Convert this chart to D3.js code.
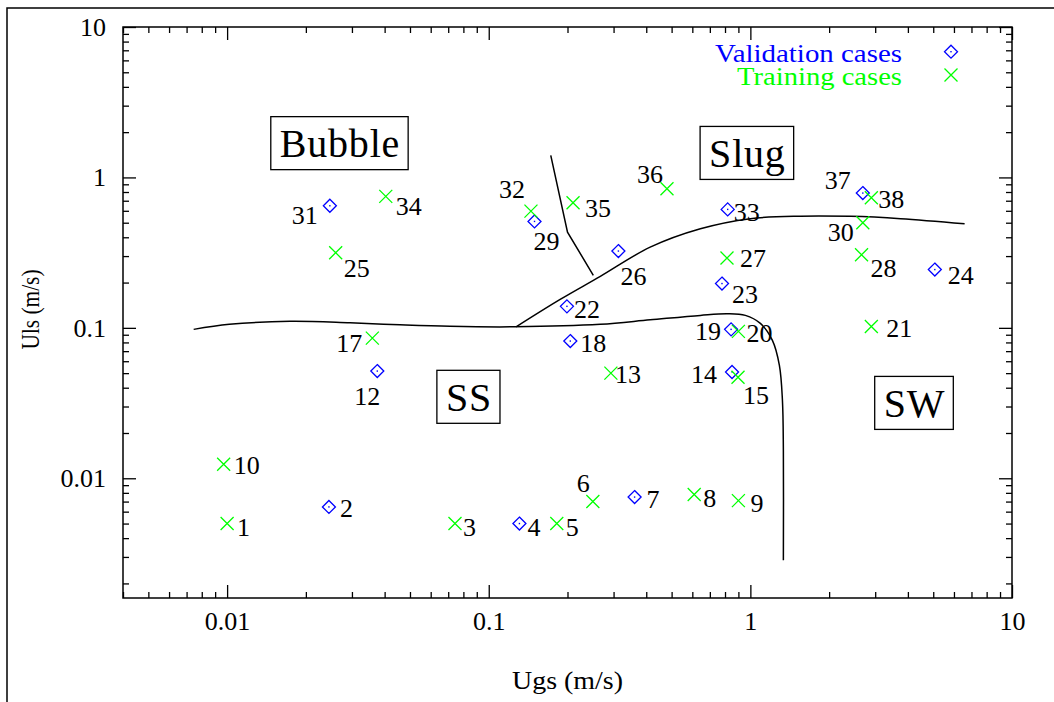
<!DOCTYPE html>
<html><head><meta charset="utf-8">
<script src="https://cdn.jsdelivr.net/npm/d3@7"></script>
<style>
body{margin:0;background:#fff}
svg{display:block}
</style>
</head><body>
<svg id="c" width="1054" height="702"></svg>
<script>
// ---------- data ----------
const trainingIds = [1,3,5,6,8,9,10,13,15,17,20,21,25,27,28,30,32,34,35,36,38];
const trainingUgs = [0.01,0.0743,0.182,0.25,0.61,0.90,0.0097,0.293,0.897,0.0359,0.90,2.90,0.026,0.814,2.66,2.69,0.145,0.0404,0.21,0.48,2.90];
const trainingUls = [0.005,0.005,0.005,0.0070,0.0078,0.0071,0.0124,0.050,0.047,0.0855,0.0948,0.102,0.316,0.291,0.306,0.50,0.597,0.748,0.679,0.841,0.733];

const validationIds = [2,4,7,12,14,18,19,22,23,24,26,29,31,33,37];
const validationUgs = [0.0245,0.131,0.361,0.0375,0.851,0.205,0.844,0.199,0.779,5.07,0.313,0.1496,0.0247,0.819,2.69];
const validationUls = [0.00645,0.005,0.0075,0.0516,0.0509,0.0817,0.0977,0.139,0.197,0.244,0.324,0.51,0.648,0.613,0.787];

const xTickValues = [0.01,0.1,1,10];
const xTickLabels = ["0.01","0.1","1","10"];
const yTickValues = [0.01,0.1,1,10];
const yTickLabels = ["0.01","0.1","1","10"];

const regionNames = ["Bubble","Slug","SS","SW"];
const regionUgs = [0.027,0.974,0.084,4.24];
const regionUls = [1.69,1.455,0.0348,0.0317];

// flow-regime boundary curves (Ugs, Uls)
const boundaryA_Ugs = [0.00745,0.0102,0.0174,0.0295,0.0458,0.0711,0.126,0.267,0.414,0.644,0.817,0.957,1.092,1.214,1.291,1.326,1.337,1.337];
const boundaryA_Uls = [0.0977,0.1055,0.1105,0.108,0.1047,0.1023,0.1016,0.1055,0.113,0.121,0.124,0.121,0.107,0.0826,0.0563,0.033,0.0153,0.00285];
const boundaryB_Ugs = [0.1272,0.1875,0.267,0.414,0.644,1.0,1.553,2.414,3.75,6.59];
const boundaryB_Uls = [0.1016,0.1546,0.22,0.344,0.456,0.532,0.553,0.551,0.532,0.492];
const boundaryC_Ugs = [0.1726,0.2,0.251];
const boundaryC_Uls = [1.40,0.433,0.2233];

const legendLabels = ["Validation cases","Training cases"];
const xTitle = "Ugs (m/s)";
const yTitle = "Uls (m/s)";

// label placement (pixel offsets from marker: left edge, vertical centre)
const trainingLabelOffsets = [[10,3],[8,3],[9,3],[-16,-19],[9,3],[12,2],[10,1],[4,1],[5,18],[-36,5],[8,2],[15,1],[8,15],[13,0],[9,13],[-35,9],[-32,-22],[10,10],[12,5],[-30,-15],[7,1]];
const validationLabelOffsets = [[11,1],[8,3],[12,2],[-23,25],[-41,2],[10,2],[-36,2],[7,3],[10,10],[13,5],[2,25],[-1,19],[-38,9],[6,3],[-38,-13]];

// ---------- drawing ----------
const FONT = "Liberation Serif";
const svg = d3.select("#c");
const L = 123, R = 1012, T = 27, B = 598;
const BLUE = "#0000ff", GREEN = "#00ff00";
const x = d3.scaleLog().domain([0.004,10]).range([L,R]);
const y = d3.scaleLog().domain([0.0016,10]).range([B,T]);

// outer frame (partially outside view)
svg.append("rect").attr("x",7).attr("y",8).attr("width",1200).attr("height",1000)
  .attr("fill","none").attr("stroke","#000").attr("stroke-width",1.5);

const xMinor = x.ticks().filter(v => !xTickValues.some(t => Math.abs(t - v) / t < 1e-6));
const yMinor = y.ticks().filter(v => !yTickValues.some(t => Math.abs(t - v) / t < 1e-6));

function styleAxis(g){
  g.select(".domain").remove();
  g.selectAll("line").attr("stroke","#000").attr("stroke-width",1.3);
  g.selectAll("text").style("font-size","26px").style("font-family",FONT).attr("fill","#000");
}
// bottom
svg.append("g").attr("transform",`translate(0,${B})`)
  .call(d3.axisBottom(x).tickValues(xTickValues).tickFormat((d,i)=>xTickLabels[i]).tickSizeInner(-13).tickSizeOuter(0).tickPadding(13.5)).call(styleAxis);
svg.append("g").attr("transform",`translate(0,${B})`)
  .call(d3.axisBottom(x).tickValues(xMinor).tickFormat("").tickSizeInner(-6).tickSizeOuter(0)).call(styleAxis);
// top
svg.append("g").attr("transform",`translate(0,${T})`)
  .call(d3.axisTop(x).tickValues(xTickValues).tickFormat("").tickSizeInner(-13).tickSizeOuter(0)).call(styleAxis);
svg.append("g").attr("transform",`translate(0,${T})`)
  .call(d3.axisTop(x).tickValues(xMinor).tickFormat("").tickSizeInner(-6).tickSizeOuter(0)).call(styleAxis);
// left
svg.append("g").attr("transform",`translate(${L},0)`)
  .call(d3.axisLeft(y).tickValues(yTickValues).tickFormat((d,i)=>yTickLabels[i]).tickSizeInner(-13).tickSizeOuter(0).tickPadding(17)).call(styleAxis);
svg.append("g").attr("transform",`translate(${L},0)`)
  .call(d3.axisLeft(y).tickValues(yMinor).tickFormat("").tickSizeInner(-6).tickSizeOuter(0)).call(styleAxis);
// right
svg.append("g").attr("transform",`translate(${R},0)`)
  .call(d3.axisRight(y).tickValues(yTickValues).tickFormat("").tickSizeInner(-13).tickSizeOuter(0)).call(styleAxis);
svg.append("g").attr("transform",`translate(${R},0)`)
  .call(d3.axisRight(y).tickValues(yMinor).tickFormat("").tickSizeInner(-6).tickSizeOuter(0)).call(styleAxis);

// plot border
svg.append("rect").attr("x",L).attr("y",T).attr("width",R-L).attr("height",B-T)
  .attr("fill","none").attr("stroke","#000").attr("stroke-width",1.5);

function txt(g, size, spacing){
  return g.append("text").style("font-family",FONT).style("font-size",size+"px")
    .style("letter-spacing",(spacing||0)+"px");
}

// axis titles
txt(svg,26).attr("x",(L+R)/2).attr("y",689).attr("text-anchor","middle")
  .attr("textLength",111).attr("lengthAdjust","spacingAndGlyphs").text(xTitle);
txt(svg,26).attr("transform",`translate(39,${(T+B)/2-3}) rotate(-90)`).attr("text-anchor","middle")
  .attr("textLength",80).attr("lengthAdjust","spacingAndGlyphs").text(yTitle);

// boundaries
const line = d3.line().x(d=>x(d[0])).y(d=>y(d[1])).curve(d3.curveCatmullRom.alpha(0.5));
const lineLin = d3.line().x(d=>x(d[0])).y(d=>y(d[1]));
function drawCurve(us, ls, gen){
  svg.append("path").datum(us.map((u,i)=>[u, ls[i]]))
    .attr("d",gen).attr("fill","none").attr("stroke","#000").attr("stroke-width",1.5);
}
drawCurve(boundaryA_Ugs, boundaryA_Uls, line);
drawCurve(boundaryB_Ugs, boundaryB_Uls, line);
drawCurve(boundaryC_Ugs, boundaryC_Uls, lineLin);

// region labels with boxes
regionNames.forEach((name,i)=>{
  const cx = x(regionUgs[i]), cy = y(regionUls[i]);
  const g = svg.append("g");
  const t = txt(g,40,0.8).attr("x",cx).attr("y",cy+14).attr("text-anchor","middle").text(name);
  const bb = t.node().getBBox();
  g.insert("rect","text").attr("x",bb.x-9).attr("y",cy-26.5).attr("width",bb.width+17).attr("height",53)
    .attr("fill","#fff").attr("stroke","#000").attr("stroke-width",1.3);
});

// markers
function diamond(g, cx, cy){
  g.append("path").attr("d",`M${cx},${cy-6.5}L${cx+6.5},${cy}L${cx},${cy+6.5}L${cx-6.5},${cy}Z`)
    .attr("fill","none").attr("stroke",BLUE).attr("stroke-width",1.3);
  g.append("rect").attr("x",cx-0.7).attr("y",cy-0.7).attr("width",1.4).attr("height",1.4).attr("fill",BLUE);
}
function cross(g, cx, cy){
  g.append("path").attr("d",`M${cx-6.5},${cy-6.5}L${cx+6.5},${cy+6.5}M${cx-6.5},${cy+6.5}L${cx+6.5},${cy-6.5}`)
    .attr("fill","none").attr("stroke",GREEN).attr("stroke-width",1.3);
}

const vg = svg.append("g");
validationIds.forEach((id,i)=>{
  const px = x(validationUgs[i]), py = y(validationUls[i]);
  diamond(vg, px, py);
  const o = validationLabelOffsets[i];
  txt(vg,26).attr("x",px+o[0]).attr("y",py+o[1]).attr("dy","0.35em").text(id);
});
const tg = svg.append("g");
trainingIds.forEach((id,i)=>{
  const px = x(trainingUgs[i]), py = y(trainingUls[i]);
  cross(tg, px, py);
  const o = trainingLabelOffsets[i];
  txt(tg,26).attr("x",px+o[0]).attr("y",py+o[1]).attr("dy","0.35em").text(id);
});

// legend
const lg = svg.append("g");
txt(lg,26).attr("x",902).attr("y",61.5).attr("text-anchor","end").attr("fill",BLUE)
  .attr("textLength",187).attr("lengthAdjust","spacingAndGlyphs").text(legendLabels[0]);
txt(lg,26).attr("x",902).attr("y",85).attr("text-anchor","end").attr("fill",GREEN)
  .attr("textLength",165).attr("lengthAdjust","spacingAndGlyphs").text(legendLabels[1]);
diamond(lg, 951, 51.7);
cross(lg, 951, 75);
</script>
</body></html>
